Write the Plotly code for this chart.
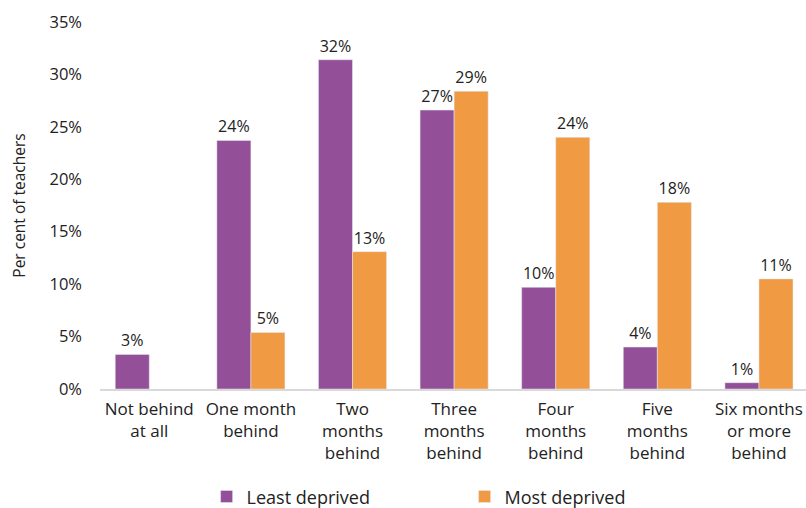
import plotly.graph_objects as go

categories = ["Not behind<br>at all", "One month<br>behind", "Two<br>months<br>behind",
              "Three<br>months<br>behind", "Four<br>months<br>behind",
              "Five<br>months<br>behind", "Six months<br>or more<br>behind"]
least_deprived = [3.3, 23.7, 31.4, 26.6, 9.7, 4.0, 0.6]
most_deprived = [None, 5.4, 13.1, 28.4, 24.0, 17.8, 10.5]
least_labels = ["3%", "24%", "32%", "27%", "10%", "4%", "1%"]
most_labels = ["", "5%", "13%", "29%", "24%", "18%", "11%"]
y_ticks = [0, 5, 10, 15, 20, 25, 30, 35]

FONT = "Open Sans, Noto Sans, sans-serif"
DARK = "#222222"

fig = go.Figure()
fig.add_trace(go.Bar(x=categories, y=least_deprived, name="Least deprived",
                     marker_color="#934F98", text=least_labels, textposition="outside",
                     textfont=dict(size=16, color=DARK), cliponaxis=False))
fig.add_trace(go.Bar(x=categories, y=most_deprived, name="Most deprived",
                     marker_color="#F09A44", text=most_labels, textposition="outside",
                     textfont=dict(size=16, color=DARK), cliponaxis=False))

fig.update_layout(
    width=806, height=508,
    margin=dict(l=100, r=0, t=22, b=119, autoexpand=False),
    paper_bgcolor="white", plot_bgcolor="white",
    font=dict(family=FONT, size=15, color=DARK),
    barmode="group", bargap=0.33, bargroupgap=0,
    showlegend=True,
    legend=dict(orientation="h", x=0.151, y=0.022, xref="paper", yref="container",
                xanchor="left", yanchor="middle",
                entrywidth=213, entrywidthmode="pixels",
                font=dict(size=18, color=DARK)),
    xaxis=dict(showline=True, linecolor="#d9d9d9", linewidth=1.5, ticks="",
               range=[-0.485, 6.463], automargin=False, ticklabelstandoff=4,
               tickfont=dict(size=17, color=DARK)),
    yaxis=dict(range=[0, 35], tickvals=y_ticks, ticktext=[f"{v}%" for v in y_ticks],
               showgrid=False, zeroline=False, ticks="", ticklabelstandoff=17,
               automargin=False,
               tickfont=dict(size=16.5, color=DARK),
               title=dict(text="Per cent of teachers", font=dict(size=15.5, color=DARK),
                          standoff=20)),
)

fig.write_html("out.html", config={"displayModeBar": False},
               post_script="document.body.style.margin='0';document.body.style.overflow='hidden';")
